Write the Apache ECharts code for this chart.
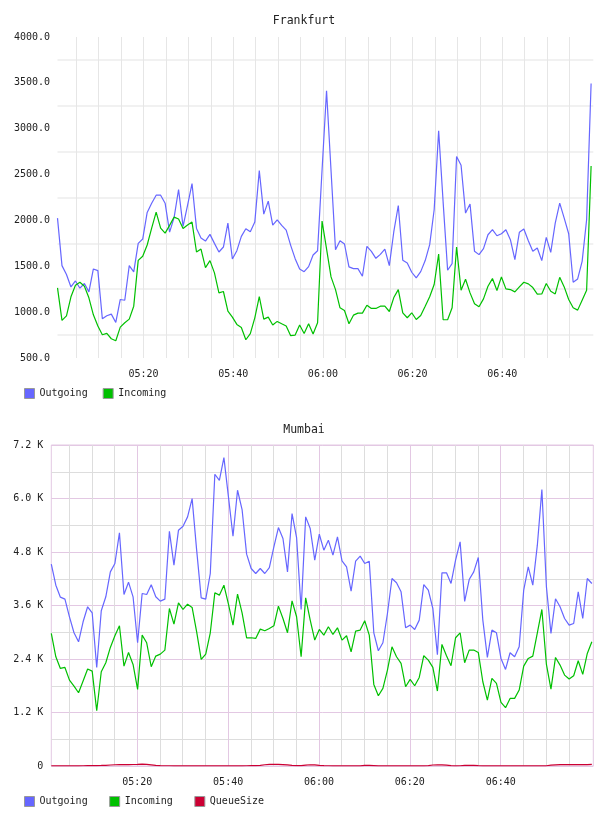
<!DOCTYPE html>
<html><head><meta charset="utf-8">
<script src="https://cdn.jsdelivr.net/npm/echarts@6/dist/echarts.min.js"></script>
<style>html,body{margin:0;padding:0;background:#fff}#c{width:608px;height:816px}</style>
</head><body><div id="c"></div>
<script>
// sample times: minutes after 05:00 of first sample, one sample per minute
const fraStart = 0.81;
const mumStart = 1.07;

const fraOutgoing = [2025,1507,1410,1275,1340,1261,1312,1221,1471,1453,
  928,960,978,888,1138,1130,1507,1439,1750,1797,
  2087,2188,2275,2275,2188,1873,2030,2337,1935,2163,
  2402,1913,1808,1775,1848,1750,1656,1710,1971,1580,
  1670,1826,1910,1877,1982,2543,2069,2210,1949,2007,
  1946,1895,1728,1583,1470,1441,1496,1623,1670,2550,
  3413,2545,1681,1779,1743,1493,1475,1475,1391,1717,
  1663,1587,1630,1688,1507,1877,2163,1565,1536,1435,
  1373,1442,1562,1736,2116,2978,2200,1457,1529,2696,
  2601,2080,2178,1663,1627,1692,1844,1899,1833,1855,
  1899,1790,1573,1870,1906,1779,1663,1699,1562,1815,
  1652,1971,2188,2025,1855,1326,1362,1554,2007,3493];
const fraIncoming = [1265,910,960,1167,1294,1326,1283,1156,971,848,
  754,768,710,688,837,884,924,1065,1565,1609,
  1732,1917,2091,1917,1862,1946,2036,2015,1913,1949,
  1982,1656,1688,1486,1562,1428,1210,1225,1011,946,
  866,833,699,765,938,1170,924,946,859,899,
  873,848,743,750,859,768,873,761,884,1993,
  1690,1384,1246,1047,1018,873,967,989,989,1076,
  1040,1040,1065,1065,1007,1159,1246,993,939,993,
  920,964,1065,1167,1301,1634,917,917,1047,1710,
  1239,1359,1210,1091,1058,1145,1283,1366,1236,1384,
  1254,1246,1221,1275,1326,1308,1268,1196,1199,1312,
  1228,1199,1380,1275,1138,1047,1022,1130,1239,2594];

const mumOutgoing = [4527,4056,3787,3742,3346,2988,2786,3235,3571,3436,
  2211,3481,3795,4355,4542,5229,3847,4123,3795,2764,
  3869,3847,4064,3795,3698,3742,5266,4504,5289,5378,
  5588,5998,4841,3772,3742,4318,6544,6409,6917,6036,
  5154,6185,5752,4751,4430,4318,4430,4318,4452,4915,
  5349,5102,4355,5662,5124,3511,5588,5326,4616,5199,
  4841,5065,4729,5139,4602,4467,3922,4594,4706,4542,
  4594,2988,2585,2764,3421,4206,4109,3907,3100,3160,
  3063,3272,4071,3944,3533,2495,4333,4333,4094,4616,
  5027,3690,4183,4355,4676,3272,2435,3048,2988,2413,
  2166,2540,2450,2674,3944,4467,4056,4953,6200,4019,
  2973,3750,3571,3309,3160,3197,3907,3309,4206,4094];
const mumIncoming = [2973,2450,2189,2211,1927,1793,1643,1905,2174,2129,
  1240,2114,2316,2659,2921,3145,2241,2547,2278,1718,
  2936,2764,2226,2465,2510,2600,3533,3182,3660,3511,
  3630,3556,3010,2390,2510,2988,3884,3832,4056,3630,
  3160,3855,3436,2876,2876,2861,3070,3033,3085,3145,
  3586,3309,2988,3705,3347,2450,3772,3272,2824,3063,
  2936,3122,2951,3100,2824,2921,2562,3025,3048,3257,
  2936,1830,1576,1741,2151,2674,2450,2301,1778,1942,
  1800,1987,2473,2375,2211,1681,2727,2473,2248,2876,
  2988,2316,2600,2600,2547,1890,1479,1965,1853,1427,
  1307,1516,1516,1703,2241,2413,2465,2988,3511,2278,
  1726,2435,2263,2039,1950,2024,2361,2054,2525,2786];
const mumQueue = [5,5,4,5,6,5,5,6,8,8,
  10,12,15,22,28,30,32,30,34,36,
  40,38,25,12,8,6,6,5,5,6,
  5,5,6,5,5,4,5,5,6,5,
  5,6,5,6,8,10,15,28,35,38,
  36,32,25,12,10,8,20,28,25,15,
  8,6,5,5,6,5,5,6,5,12,
  15,10,5,5,4,5,5,6,5,5,
  6,5,5,10,22,28,25,18,8,5,
  6,12,16,14,8,5,5,4,5,5,
  6,5,5,4,5,6,5,5,6,5,
  18,26,30,32,32,30,32,34,33,35];

const fraYTicks = [500, 4000, 500];   // min, max, interval
const mumYTicks = [0, 7200, 1200];
const labelTimes = [20, 40, 60, 80, 100];          // 05:20 ... 06:40
const gridTimes = [5,10,15,20,25,30,35,40,45,50,55,60,65,70,75,80,85,90,95,100,105,110,115];
const minorTimes = gridTimes.filter(t => t % 20 !== 0);

function toPairs(start, arr) { return arr.map((v, i) => [start + i, v]); }
function hhmm(m) {
  const t = Math.round(300 + m);
  return String(Math.floor(t / 60)).padStart(2, '0') + ':' + String(t % 60).padStart(2, '0');
}

const BLUE = '#6666ff', GREEN = '#00c000', RED = '#cc0033';
const MONO = 'DejaVu Sans Mono';
const TXT = '#222';
const PINK = '#e3c8e3';

const chart = echarts.init(document.getElementById('c'), null, {renderer: 'canvas'});
const fraMax = 120.3, mumMax = 120.39;

const option = {
  animation: false,
  backgroundColor: '#fff',
  title: [
    {text: 'Frankfurt', left: 'center', top: 15, padding: 0,
     textStyle: {fontFamily: MONO, fontSize: 11.5, fontWeight: 'normal', color: TXT}},
    {text: 'Mumbai', left: 'center', top: 424, padding: 0,
     textStyle: {fontFamily: MONO, fontSize: 11.5, fontWeight: 'normal', color: TXT}}
  ],
  legend: [
    {data: ['Outgoing', 'Incoming'], left: 24, top: 388, padding: 0, itemGap: 15,
     itemWidth: 10, itemHeight: 10, icon: 'rect',
     itemStyle: {borderColor: '#999', borderWidth: 1},
     textStyle: {fontFamily: MONO, fontSize: 10, color: TXT}},
    {data: ['Outgoing', 'Incoming', 'QueueSize'], left: 24, top: 796, padding: 0, itemGap: 21.5,
     itemWidth: 10, itemHeight: 10, icon: 'rect',
     itemStyle: {borderColor: '#999', borderWidth: 1},
     textStyle: {fontFamily: MONO, fontSize: 10, color: TXT}}
  ],
  grid: [
    {left: 57.5, right: 608 - 593.3, top: 37, height: 321, show: false},
    {left: 51.3, right: 608 - 593.3, top: 445, height: 321, show: true,
     borderColor: PINK, borderWidth: 1, backgroundColor: 'transparent'}
  ],
  xAxis: [
    {gridIndex: 0, type: 'value', min: fraStart, max: fraMax,
     axisLine: {show: false}, axisTick: {show: false, customValues: gridTimes},
     axisLabel: {customValues: labelTimes, formatter: v => hhmm(v), fontFamily: MONO, fontSize: 10, color: TXT, margin: 11},
     splitLine: {show: true, lineStyle: {color: '#e6e6e6', width: 1}}},
    {gridIndex: 1, type: 'value', min: mumStart, max: mumMax,
     axisLine: {show: false}, axisTick: {show: false, customValues: minorTimes},
     axisLabel: {show: false},
     splitLine: {show: true, lineStyle: {color: '#dddddd', width: 1}}},
    {gridIndex: 1, type: 'value', min: mumStart, max: mumMax, position: 'bottom',
     axisLine: {show: false}, axisTick: {show: false, customValues: labelTimes},
     axisLabel: {customValues: labelTimes, formatter: v => hhmm(v), fontFamily: MONO, fontSize: 10, color: TXT, margin: 11.5},
     splitLine: {show: true, lineStyle: {color: PINK, width: 1}}}
  ],
  yAxis: [
    {gridIndex: 0, type: 'value', min: fraYTicks[0], max: fraYTicks[1], interval: fraYTicks[2],
     axisLine: {show: false}, axisTick: {show: false},
     axisLabel: {formatter: v => v.toFixed(1), fontFamily: MONO, fontSize: 10, color: TXT, margin: 7.5},
     splitLine: {show: false},
     minorTick: {show: false, splitNumber: 2},
     minorSplitLine: {show: true, lineStyle: {color: '#ededed', width: 1.5}}},
    {gridIndex: 1, type: 'value', min: mumYTicks[0], max: mumYTicks[1], interval: mumYTicks[2],
     axisLine: {show: false}, axisTick: {show: false},
     axisLabel: {formatter: v => v === 0 ? '0' : (v / 1000).toFixed(1) + ' K', fontFamily: MONO, fontSize: 10, color: TXT, margin: 8},
     splitLine: {show: true, lineStyle: {color: PINK, width: 1}},
     minorTick: {show: false, splitNumber: 2},
     minorSplitLine: {show: true, lineStyle: {color: '#dddddd', width: 1}}}
  ],
  series: [
    {name: 'Outgoing', type: 'line', xAxisIndex: 0, yAxisIndex: 0, data: toPairs(fraStart, fraOutgoing),
     showSymbol: false, color: BLUE, lineStyle: {color: BLUE, width: 1.2}},
    {name: 'Incoming', type: 'line', xAxisIndex: 0, yAxisIndex: 0, data: toPairs(fraStart, fraIncoming),
     showSymbol: false, color: GREEN, lineStyle: {color: GREEN, width: 1.2}},
    {name: 'Outgoing', type: 'line', xAxisIndex: 1, yAxisIndex: 1, data: toPairs(mumStart, mumOutgoing),
     showSymbol: false, color: BLUE, lineStyle: {color: BLUE, width: 1.2}},
    {name: 'Incoming', type: 'line', xAxisIndex: 1, yAxisIndex: 1, data: toPairs(mumStart, mumIncoming),
     showSymbol: false, color: GREEN, lineStyle: {color: GREEN, width: 1.2}},
    {name: 'QueueSize', type: 'line', xAxisIndex: 1, yAxisIndex: 1, data: toPairs(mumStart, mumQueue),
     showSymbol: false, color: RED, lineStyle: {color: RED, width: 1.2}}
  ]
};
chart.setOption(option);
</script></body></html>
